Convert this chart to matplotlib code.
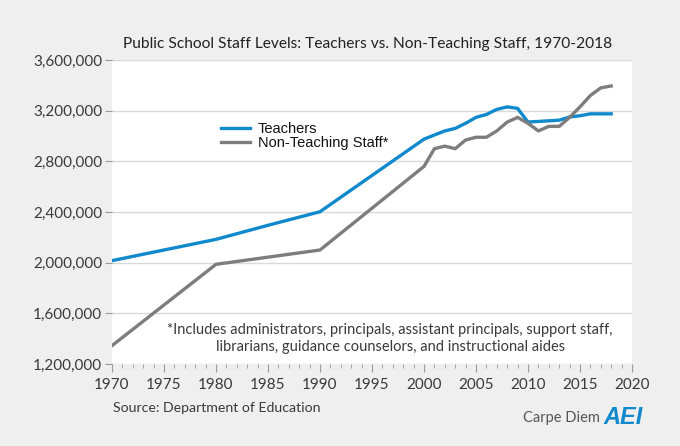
import matplotlib
matplotlib.use("Agg")
import matplotlib.pyplot as plt
from matplotlib.ticker import FuncFormatter, MultipleLocator

# data (values in staff counts)
teachers_key = {1970: 2016000, 1980: 2184000, 1985: 2295000, 1990: 2402000,
                2000: 2975000, 2001: 3008000, 2002: 3040000, 2003: 3060000,
                2004: 3100000, 2005: 3147000, 2006: 3170000, 2007: 3210000,
                2008: 3230000, 2009: 3218000, 2010: 3110000, 2011: 3115000,
                2012: 3120000, 2013: 3125000, 2014: 3150000, 2015: 3160000,
                2016: 3175000, 2017: 3175000, 2018: 3175000}
nonteach_key = {1970: 1345000, 1980: 1987000, 1990: 2100000, 2000: 2760000,
                2001: 2900000, 2002: 2920000, 2003: 2900000, 2004: 2968000,
                2005: 2990000, 2006: 2990000, 2007: 3040000, 2008: 3110000,
                2009: 3147000, 2010: 3100000, 2011: 3040000, 2012: 3076000,
                2013: 3076000, 2014: 3147000, 2015: 3230000, 2016: 3320000,
                2017: 3380000, 2018: 3395000}
teach_years = sorted(teachers_key)
teach_vals = [teachers_key[y] for y in teach_years]
staff_years = sorted(nonteach_key)
staff_vals = [nonteach_key[y] for y in staff_years]

title = "Public School Staff Levels: Teachers vs. Non-Teaching Staff, 1970-2018"
note = ("*Includes administrators, principals, assistant principals, support staff,\n"
        "librarians, guidance counselors, and instructional aides")

blue = "#1189cd"
grey = "#7d7d7d"
txt = "#3a3a3a"

fig = plt.figure(figsize=(6.8, 4.46), dpi=100)
fig.patch.set_facecolor("#efefef")
ax = fig.add_axes([112/680, 82/446, 520/680, 304/446])
ax.set_facecolor("white")

ax.plot(teach_years, teach_vals, color=blue, lw=2.4, label="Teachers", zorder=3)
ax.plot(staff_years, staff_vals, color=grey, lw=2.4, label="Non-Teaching Staff*", zorder=3)

ax.set_xlim(1970, 2020)
ax.set_ylim(1200000, 3600000)
ax.xaxis.set_major_locator(MultipleLocator(5))
ax.xaxis.set_minor_locator(MultipleLocator(1))
ax.yaxis.set_major_locator(MultipleLocator(400000))
ax.yaxis.set_major_formatter(FuncFormatter(lambda v, p: f"{int(v):,}"))
ax.grid(axis="y", color="#d9d9d9", lw=1)
ax.set_axisbelow(True)
for s in ax.spines.values():
    s.set_visible(False)
ax.tick_params(axis="x", which="major", length=6, color="#999999", labelsize=11,
               labelcolor=txt, pad=4)
ax.tick_params(axis="x", which="minor", length=3, color="#999999")
ax.tick_params(axis="y", length=5, color="#999999", labelsize=11, labelcolor=txt, pad=2)
for lab in ax.get_xticklabels() + ax.get_yticklabels():
    lab.set_family("Lato")

leg = ax.legend(loc="upper left", bbox_to_anchor=(0.185, 0.84), frameon=False,
                handlelength=2.0, handletextpad=0.5, labelspacing=0.05,
                prop={"family": "Liberation Sans", "size": 10.5})
for t in leg.get_texts():
    t.set_color("#111111")

ax.text(0.535, 0.084, note, transform=ax.transAxes, ha="center", va="center",
        fontsize=10.5, family="Lato", color=txt, linespacing=1.2)

fig.text(368/680, 1 - 44/446, title, ha="center", va="center", fontsize=11.2,
         family="Lato", color="#222222")
fig.text(113/680, 1 - 408/446, "Source: Department of Education", ha="left",
         va="center", fontsize=10.2, family="Lato", color=txt)
fig.text(600/680, 1 - 418/446, "Carpe Diem", ha="right", va="center",
         fontsize=10.5, family="Lato", color="#555555")
fig.text(603/680, 1 - 417/446, "AEI", ha="left", va="center", fontsize=17,
         family="Liberation Sans", weight="bold", style="italic", color=blue)

plt.savefig("out.png", dpi=100, facecolor=fig.get_facecolor())
